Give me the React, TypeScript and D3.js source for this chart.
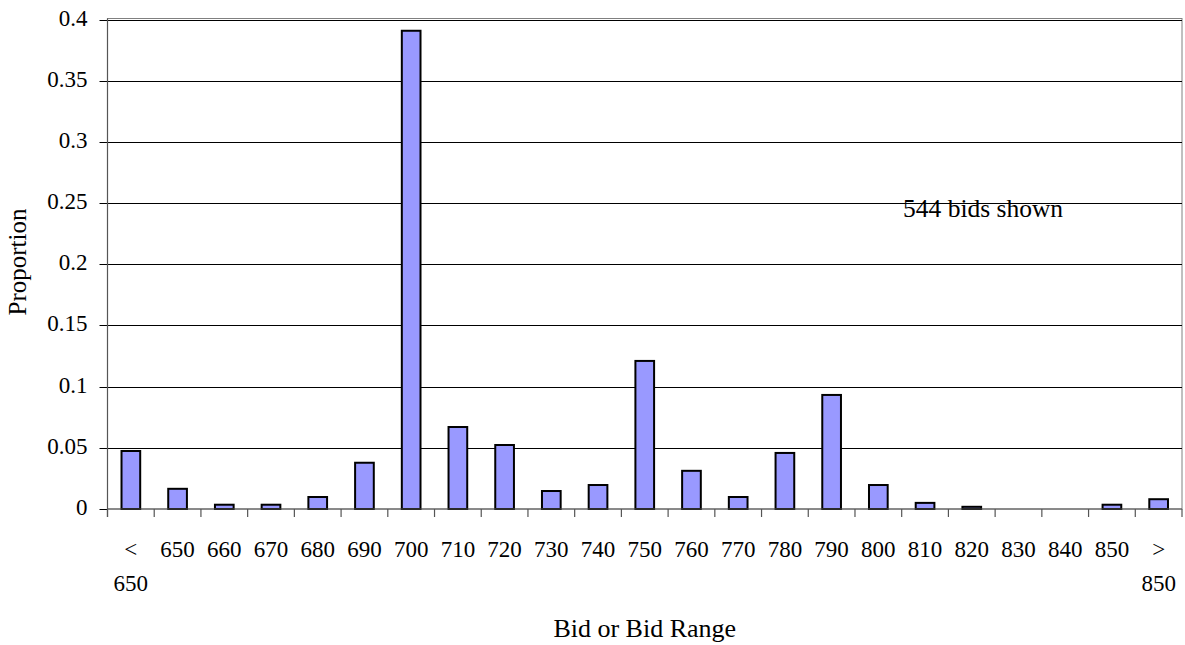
import React, { useEffect, useRef } from "react";
import * as d3 from "d3";

const categories: string[][] = [
  ["<", "650"], ["650"], ["660"], ["670"], ["680"], ["690"], ["700"], ["710"],
  ["720"], ["730"], ["740"], ["750"], ["760"], ["770"], ["780"], ["790"],
  ["800"], ["810"], ["820"], ["830"], ["840"], ["850"], [">", "850"],
];
const proportions: number[] = [
  0.0474, 0.0165, 0.0035, 0.0035, 0.0098, 0.0378, 0.3908, 0.0670,
  0.0523, 0.0147, 0.0196, 0.1210, 0.0312, 0.0098, 0.0458, 0.0932,
  0.0196, 0.0050, 0.0018, 0, 0, 0.0035, 0.0080,
];
const yTicks: number[] = [0, 0.05, 0.1, 0.15, 0.2, 0.25, 0.3, 0.35, 0.4];
const yTickLabels: string[] = ["0", "0.05", "0.1", "0.15", "0.2", "0.25", "0.3", "0.35", "0.4"];
const annotation = "544 bids shown";
const xTitle = "Bid or Bid Range";
const yTitle = "Proportion";

const W = 1185;
const H = 645;
const FONT = "'Liberation Serif', 'Times New Roman', serif";

export default function App() {
  const ref = useRef<SVGSVGElement | null>(null);

  useEffect(() => {
    const svg = d3.select(ref.current);
    svg.selectAll("*").remove();

    const left = 107.5, right = 1182, top = 19.5, bottom = 509;
    const x = d3.scaleBand<number>()
      .domain(categories.map((_, i) => i))
      .range([left, right])
      .padding(0);
    const y = d3.scaleLinear().domain([0, 0.4]).range([bottom, top]);
    const bw = x.bandwidth() * 0.4;

    // plot border (gray)
    svg.append("rect")
      .attr("x", left).attr("y", top - 1)
      .attr("width", right - left).attr("height", bottom - top + 1)
      .attr("fill", "none").attr("stroke", "#808080").attr("stroke-width", 1);

    // gridlines
    svg.append("g").selectAll("line")
      .data(yTicks.filter((t) => t > 0))
      .join("line")
      .attr("x1", left).attr("x2", right)
      .attr("y1", (d) => Math.round(y(d)) + 0.5).attr("y2", (d) => Math.round(y(d)) + 0.5)
      .attr("stroke", "#000").attr("stroke-width", 1);

    // y ticks
    svg.append("g").selectAll("line")
      .data(yTicks)
      .join("line")
      .attr("x1", left - 8).attr("x2", left)
      .attr("y1", (d) => Math.round(y(d)) + 0.5).attr("y2", (d) => Math.round(y(d)) + 0.5)
      .attr("stroke", "#000").attr("stroke-width", 1);

    svg.append("g").selectAll("text")
      .data(yTicks)
      .join("text")
      .attr("x", 87.5)
      .attr("y", (d) => y(d) + 6)
      .attr("text-anchor", "end")
      .attr("font-family", FONT)
      .attr("font-size", 23)
      .attr("fill", "#000")
      .text((_, i) => yTickLabels[i]);

    // bars
    svg.append("g").selectAll("rect")
      .data(proportions)
      .join("rect")
      .attr("x", (_, i) => (x(i) as number) + (x.bandwidth() - bw) / 2)
      .attr("y", (d) => y(d))
      .attr("width", bw)
      .attr("height", (d) => bottom - y(d))
      .attr("fill", "#9999FF")
      .attr("stroke", (d) => (d > 0 ? "#000" : "none"))
      .attr("stroke-width", 2);

    // axes lines
    svg.append("line")
      .attr("x1", left).attr("x2", left).attr("y1", top - 1).attr("y2", bottom + 8)
      .attr("stroke", "#555").attr("stroke-width", 1.2);
    svg.append("line")
      .attr("x1", left).attr("x2", right).attr("y1", bottom).attr("y2", bottom)
      .attr("stroke", "#555").attr("stroke-width", 1.2);

    // x ticks at band boundaries
    const bounds = categories.map((_, i) => x(i) as number).concat([right]);
    svg.append("g").selectAll("line")
      .data(bounds)
      .join("line")
      .attr("x1", (d) => d).attr("x2", (d) => d)
      .attr("y1", bottom).attr("y2", bottom + 8)
      .attr("stroke", "#555").attr("stroke-width", 1.2);

    // x labels
    const lbl = svg.append("g").selectAll("text")
      .data(categories)
      .join("text")
      .attr("text-anchor", "middle")
      .attr("font-family", FONT)
      .attr("font-size", 23)
      .attr("fill", "#000");
    lbl.each(function (lines, i) {
      const t = d3.select(this);
      const cx = (x(i) as number) + x.bandwidth() / 2;
      lines.forEach((s, k) => {
        t.append("tspan").attr("x", cx).attr("y", 556.5 + k * 34).text(s);
      });
    });

    // annotation
    svg.append("text")
      .attr("x", 903).attr("y", 217)
      .attr("font-family", FONT).attr("font-size", 25.5)
      .attr("fill", "#000")
      .text(annotation);

    // axis titles
    svg.append("text")
      .attr("x", (left + right) / 2).attr("y", 637)
      .attr("text-anchor", "middle")
      .attr("font-family", FONT).attr("font-size", 26)
      .attr("fill", "#000")
      .text(xTitle);
    svg.append("text")
      .attr("transform", `translate(26,262) rotate(-90)`)
      .attr("text-anchor", "middle")
      .attr("font-family", FONT).attr("font-size", 25)
      .attr("fill", "#000")
      .text(yTitle);
  }, []);

  return (
    <div style={{ position: "absolute", left: 0, top: 0 }}>
      <svg ref={ref} width={W} height={H} style={{ display: "block", background: "#fff" }} />
    </div>
  );
}
